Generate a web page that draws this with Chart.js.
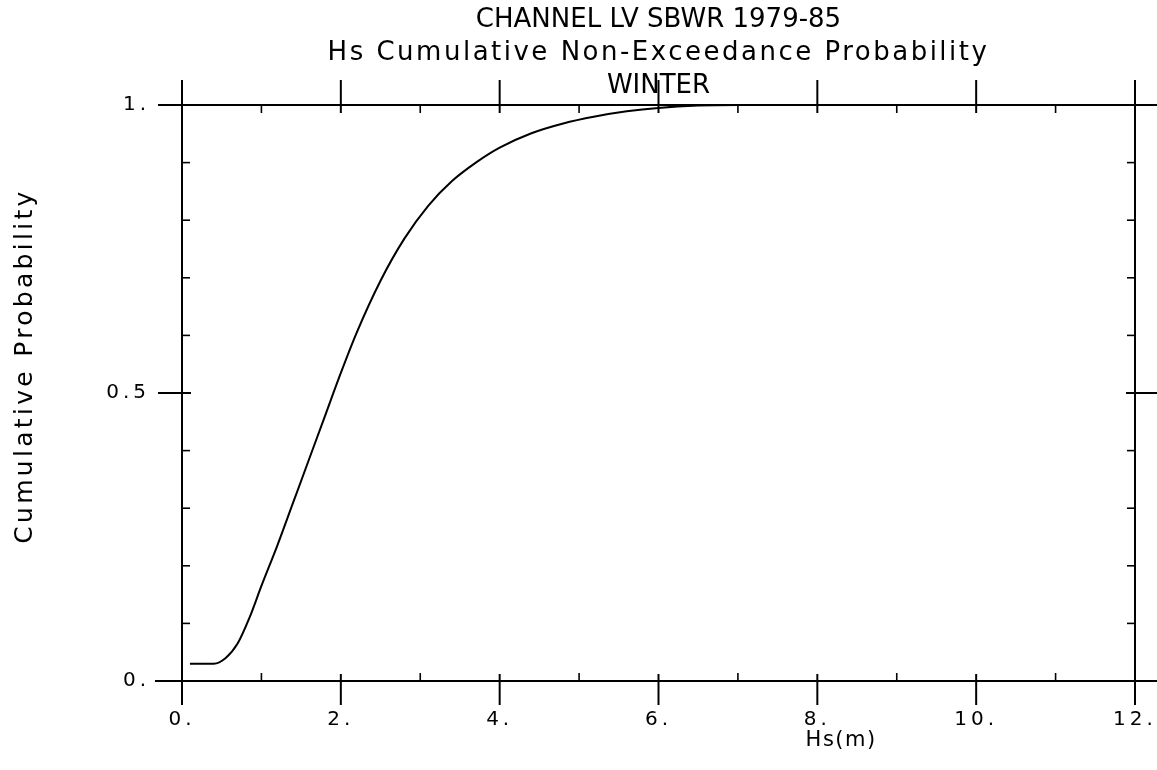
<!DOCTYPE html>
<html>
<head>
<meta charset="utf-8">
<script src="https://cdn.jsdelivr.net/npm/chart.js@4.4.1/dist/chart.umd.min.js"></script>
<style>
  html, body { margin: 0; padding: 0; background: #fff; }
  #wrap { width: 1157px; height: 770px; }
</style>
</head>
<body>
<div id="wrap"><canvas id="cdf"></canvas></div>
<script>
// Hs (m) and cumulative non-exceedance probability
const hsValues = [0.1, 0.4, 0.55, 0.7, 0.85, 1.0, 1.2, 1.4, 1.6, 1.8, 2.0, 2.2, 2.5, 2.8, 3.1, 3.4, 3.7, 4.0, 4.4, 4.8, 5.2, 5.6, 6.0, 6.5, 7.0, 8.0, 10.0]
const probValues = [0.03, 0.03, 0.04, 0.065, 0.11, 0.165, 0.235, 0.31, 0.385, 0.46, 0.535, 0.605, 0.695, 0.768, 0.825, 0.868, 0.9, 0.926, 0.951, 0.968, 0.98, 0.989, 0.995, 0.999, 1.0, 1.0, 1.0]

const xMajorTicks = [0, 2, 4, 6, 8, 10, 12]
const xMinorTicks = [1, 3, 5, 7, 9, 11]
const yMajorTicks = [0, 0.5, 1]
const yMinorTicks = [0.1, 0.2, 0.3, 0.4, 0.6, 0.7, 0.8, 0.9]
const yTickLabels = ['0.', '0.5', '1.']

const titleLines = ['CHANNEL LV SBWR 1979-85', 'Hs Cumulative Non-Exceedance Probability', 'WINTER']
const xTitle = 'Hs(m)'
const yTitle = 'Cumulative Probability'

const FONT = '"DejaVu Sans", "Liberation Sans", sans-serif'

// the plotter lettering is spaced out, canvas letterSpacing gets close
const plotterText = {
  id: 'plotterText',
  beforeDraw(chart) {
    chart.ctx.letterSpacing = '4px'
  },
  afterDraw(chart) {
    const { ctx, chartArea: a, scales: { x } } = chart
    const cx = (a.left + a.right) / 2
    ctx.save()
    ctx.fillStyle = '#000'
    ctx.textAlign = 'center'
    ctx.textBaseline = 'middle'

    ctx.font = '26px ' + FONT
    const spacing = [0, 2.5, 0]
    const rows = [20, 53, 86]
    titleLines.forEach((t, i) => {
      ctx.letterSpacing = spacing[i] + 'px'
      ctx.fillText(t, cx, rows[i])
    })

    ctx.font = '21px ' + FONT
    ctx.letterSpacing = '1.5px'
    ctx.fillText(xTitle, x.getPixelForValue(8.3), a.bottom + 60)

    ctx.font = '25px ' + FONT
    ctx.letterSpacing = '3.3px'
    ctx.translate(25, 366)
    ctx.rotate(-Math.PI / 2)
    ctx.fillText(yTitle, 0, 0)
    ctx.restore()
    ctx.letterSpacing = '0px'
  }
}

// old plotter style frame: lines run past the corners, big ticks cross the axis
const plotterFrame = {
  id: 'plotterFrame',
  afterDraw(chart) {
    const { ctx, chartArea: a, scales: { x, y } } = chart
    ctx.save()
    ctx.strokeStyle = '#000'
    ctx.lineCap = 'butt'

    const line = (x1, y1, x2, y2, w) => {
      ctx.lineWidth = w
      ctx.beginPath()
      ctx.moveTo(x1, y1)
      ctx.lineTo(x2, y2)
      ctx.stroke()
    }

    // frame
    line(a.left - 19, a.top, chart.width, a.top, 2)
    line(a.left - 27, a.bottom, chart.width, a.bottom, 2)
    line(a.left, a.top - 25, a.left, a.bottom + 24, 2)
    line(a.right, a.top - 18, a.right, a.bottom + 24, 2)

    // x ticks
    xMajorTicks.forEach(v => {
      const px = x.getPixelForValue(v)
      line(px, a.bottom - 7, px, a.bottom + 24, 2)
      line(px, a.top - 25, px, a.top + 8, 2)
    })
    xMinorTicks.forEach(v => {
      const px = x.getPixelForValue(v)
      line(px, a.bottom - 8, px, a.bottom, 1.6)
      line(px, a.top, px, a.top + 8, 1.6)
    })

    // y ticks
    yMajorTicks.forEach(v => {
      const py = y.getPixelForValue(v)
      line(a.left - 24, py, a.left + 9, py, 2)
      line(a.right - 9, py, a.right + 24, py, 2)
    })
    yMinorTicks.forEach(v => {
      const py = y.getPixelForValue(v)
      line(a.left, py, a.left + 8, py, 1.6)
      line(a.right - 8, py, a.right, py, 1.6)
    })
    ctx.restore()
  }
}

const ctx = document.getElementById('cdf').getContext('2d')

new Chart(ctx, {
  type: 'scatter',
  data: {
    datasets: [{
      data: hsValues.map((v, i) => ({ x: v, y: probValues[i] })),
      showLine: true,
      borderColor: '#000',
      borderWidth: 2,
      pointRadius: 0,
      cubicInterpolationMode: 'monotone',
      fill: false
    }]
  },
  options: {
    responsive: true,
    maintainAspectRatio: false,
    animation: false,
    layout: {
      padding: { left: 0, right: 22, top: 105, bottom: 0 }
    },
    plugins: {
      legend: { display: false },
      tooltip: { enabled: false },
      title: { display: false }
    },
    scales: {
      x: {
        type: 'linear',
        min: 0,
        max: 12,
        afterBuildTicks: scale => {
          scale.ticks = xMajorTicks.map(v => ({ value: v }))
        },
        afterFit: scale => {
          scale.height = 89
          scale.paddingLeft = 0
          scale.paddingRight = 0
        },
        grid: { display: false, drawTicks: false },
        border: { display: false },
        ticks: {
          color: '#000',
          padding: 27,
          maxRotation: 0,
          font: { family: FONT, size: 20 },
          callback: value => value + '.'
        }
      },
      y: {
        type: 'linear',
        min: 0,
        max: 1,
        afterBuildTicks: scale => {
          scale.ticks = yMajorTicks.map(v => ({ value: v }))
        },
        afterFit: scale => {
          scale.width = 182
          scale.paddingTop = 0
          scale.paddingBottom = 0
        },
        grid: { display: false, drawTicks: false },
        border: { display: false },
        ticks: {
          color: '#000',
          padding: 32,
          font: { family: FONT, size: 20 },
          callback: value => yTickLabels[yMajorTicks.indexOf(value)]
        }
      }
    }
  },
  plugins: [plotterFrame, plotterText]
})
</script>
</body>
</html>
